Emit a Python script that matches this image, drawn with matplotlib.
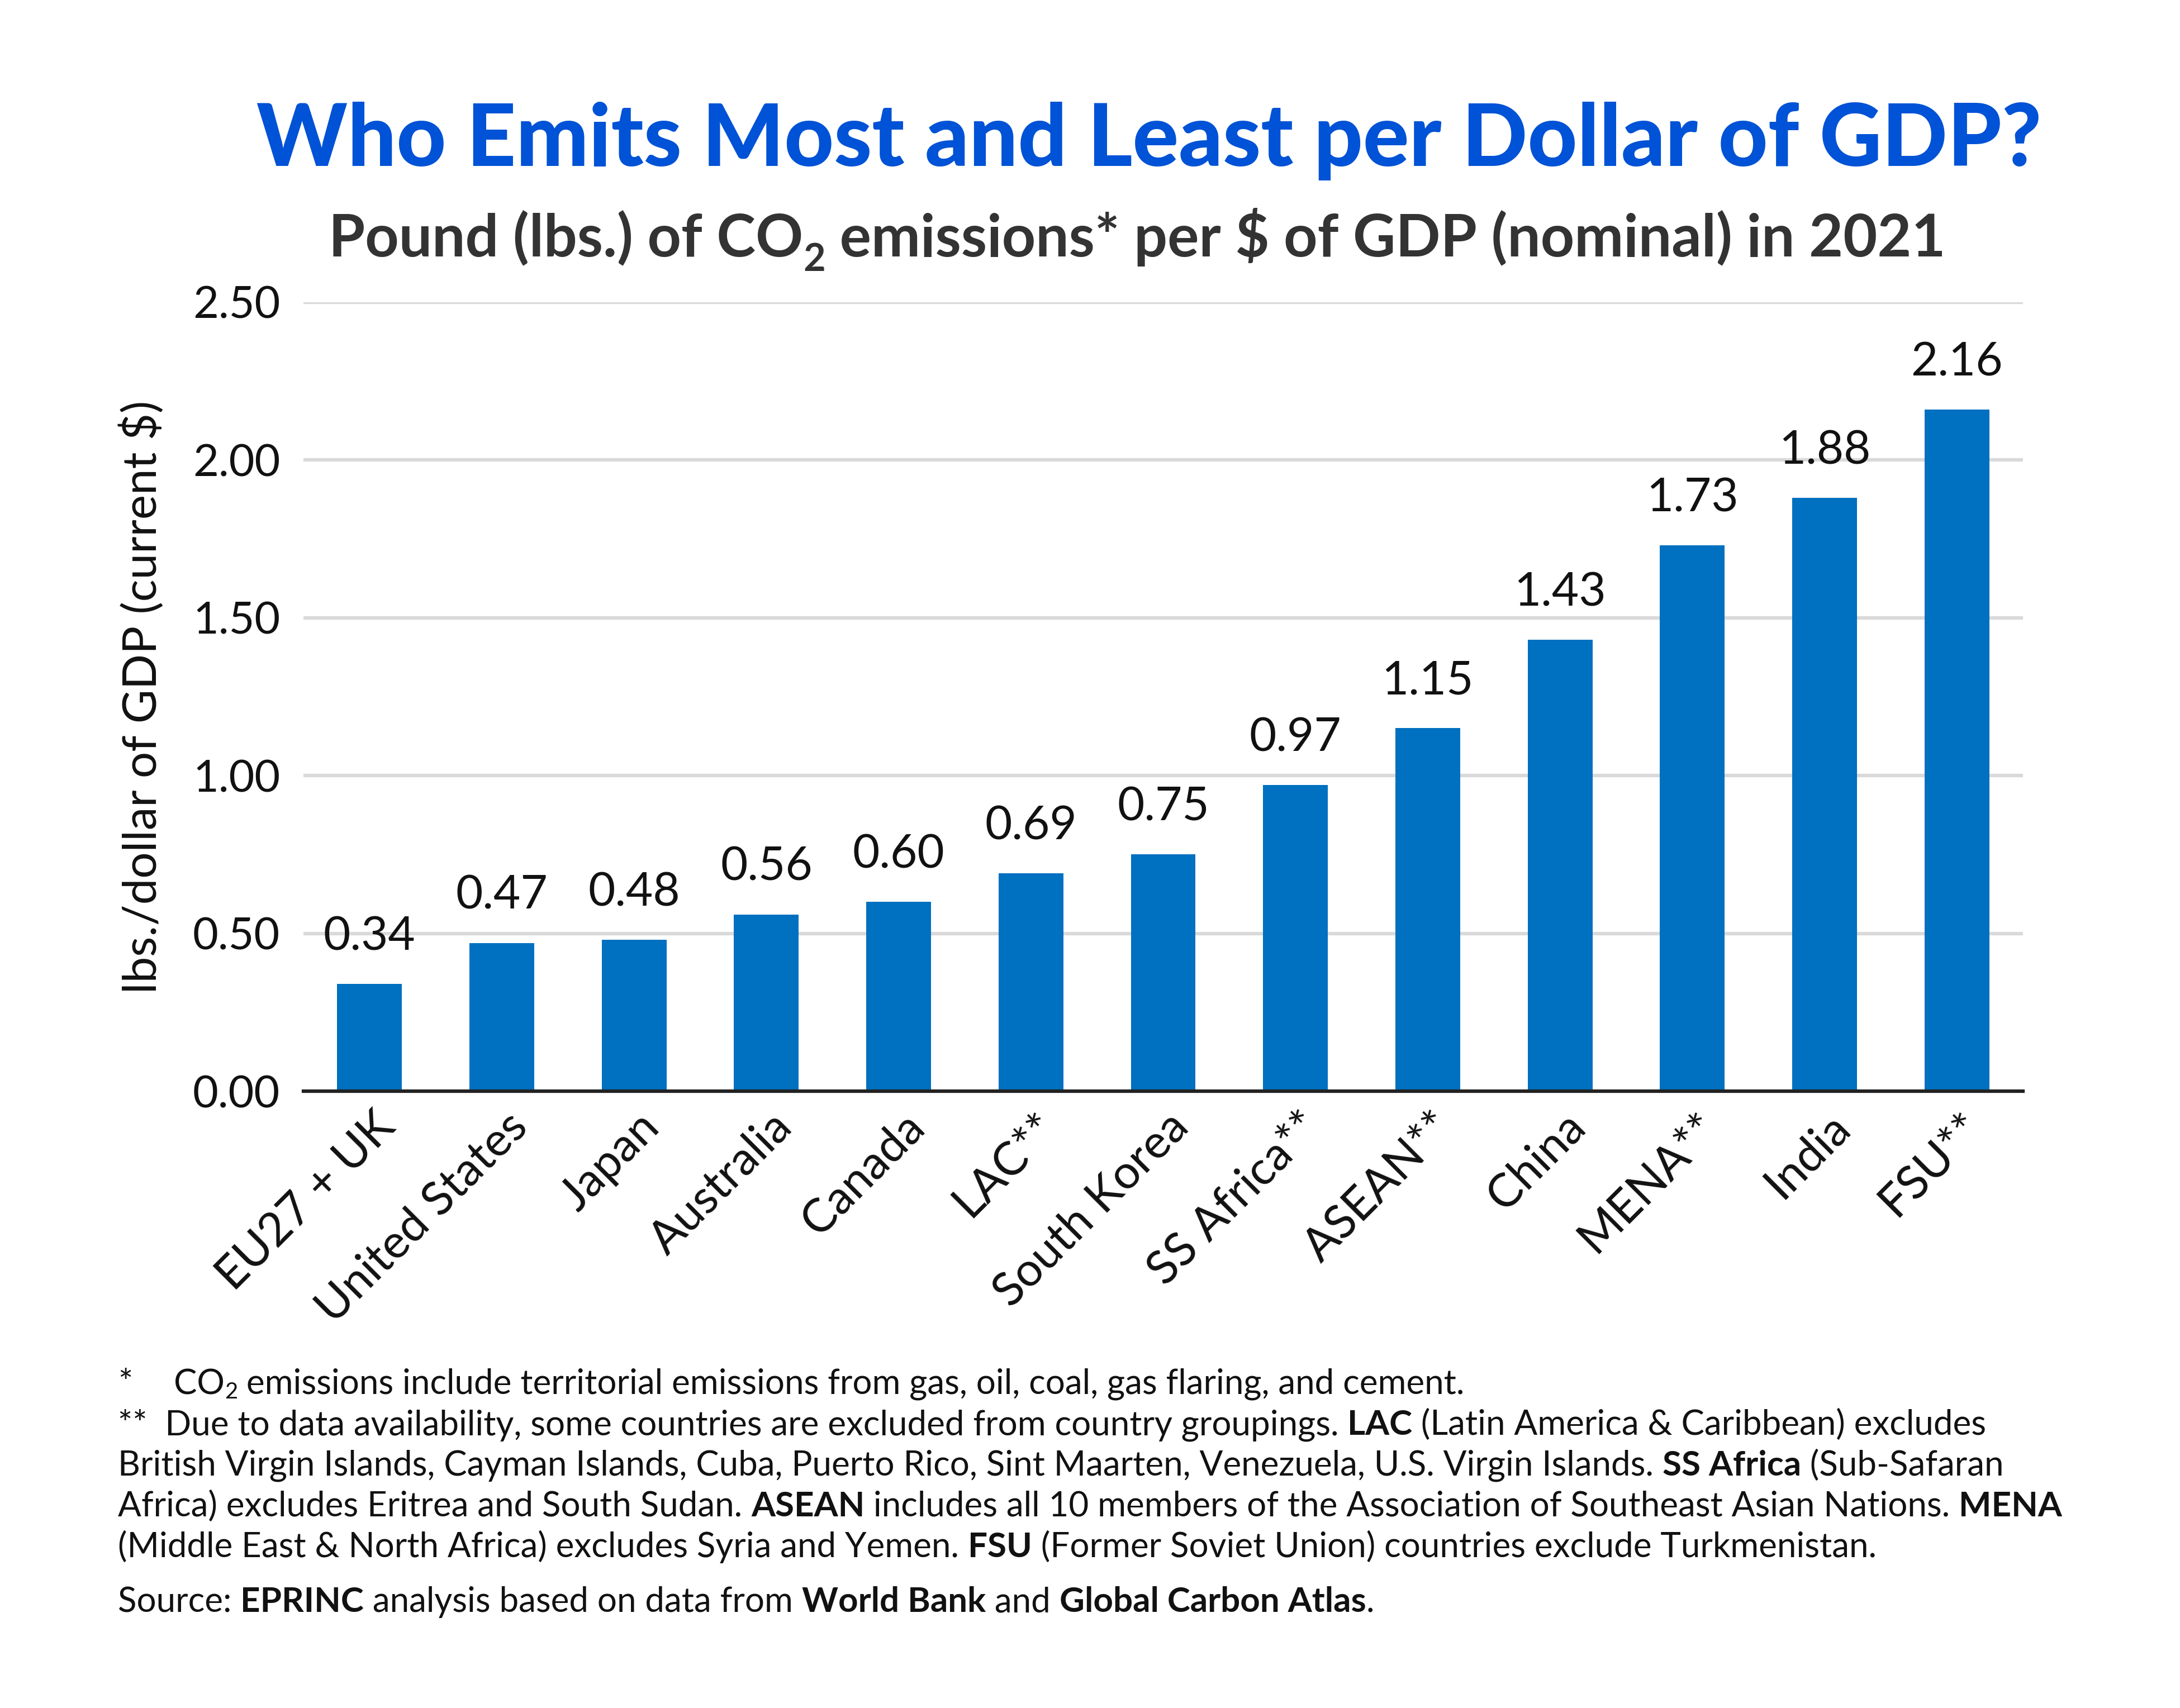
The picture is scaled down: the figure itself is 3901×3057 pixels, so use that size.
import matplotlib
matplotlib.use('Agg')
import matplotlib.pyplot as plt
import matplotlib.transforms as mtransforms

plt.rcParams['font.family'] = ['Lato', 'DejaVu Sans']

# ---- data ----
categories = ['EU27 + UK', 'United States', 'Japan', 'Australia', 'Canada', 'LAC**',
              'South Korea', 'SS Africa**', 'ASEAN**', 'China', 'MENA**', 'India', 'FSU**']
values = [0.34, 0.47, 0.48, 0.56, 0.60, 0.69, 0.75, 0.97, 1.15, 1.43, 1.73, 1.88, 2.16]
value_labels = ['0.34', '0.47', '0.48', '0.56', '0.60', '0.69', '0.75', '0.97', '1.15',
                '1.43', '1.73', '1.88', '2.16']
yticks = [0.0, 0.5, 1.0, 1.5, 2.0, 2.5]

BAR = '#0070C0'
TITLE_C = '#0052D6'
SUB_C = '#333333'
TXT = '#111111'

DPI = 300
W, H = 3901, 3057
fig = plt.figure(figsize=(W / DPI, H / DPI), dpi=DPI)
ax = fig.add_axes([543 / W, 1 - 1953 / H, (3620 - 543) / W, (1953 - 541) / H])

x = list(range(len(categories)))
bars = ax.bar(x, values, width=0.49, color=BAR, zorder=3)

for xi, v, lab in zip(x, values, value_labels):
    ax.annotate(lab, (xi, v), xytext=(0, 11), textcoords='offset points',
                ha='center', va='bottom', fontsize=20, color=TXT)

ax.set_xlim(-0.5, len(categories) - 0.5)
ax.set_ylim(0, 2.5)
ax.set_yticks(yticks)
ax.set_yticklabels(['%.2f' % t for t in yticks], fontsize=19, color=TXT)
ax.set_xticks(x)
ax.tick_params(axis='both', length=0)
ax.tick_params(axis='y', pad=10)
ax.tick_params(axis='x', pad=6)
ax.set_xticklabels(categories, rotation=45, ha='right', fontsize=20, color=TXT)
# nudge rotated labels right (after tick_params, which resets transforms)
shift = mtransforms.ScaledTranslation(0.2, 0, fig.dpi_scale_trans)
for t in ax.xaxis.get_majorticklabels():
    t.set_transform(t.get_transform() + shift)
ax.grid(axis='y', color='#D9D9D9', linewidth=1.5, zorder=0)
for s in ['top', 'right', 'left']:
    ax.spines[s].set_visible(False)
ax.spines['bottom'].set_color('#222222')
ax.spines['bottom'].set_linewidth(1.5)
ax.spines['bottom'].set_zorder(4)
ax.set_ylabel('lbs./dollar of GDP (current $)', fontsize=20, color=TXT, labelpad=12)

renderer = fig.canvas.get_renderer()
ident = mtransforms.IdentityTransform()


def rich(x0, y0, parts, size, color, center=False):
    # parts: (text, weight, scale, dy in px)
    objs = []
    cx = x0
    for s, wt, sc, dy in parts:
        t = fig.text(cx, y0 - dy, s, fontsize=size * sc, fontweight=wt, color=color,
                     transform=ident, va='baseline', ha='left')
        cx += t.get_window_extent(renderer).width
        objs.append(t)
    if center:
        off = (cx - x0) / 2
        for t in objs:
            px, py = t.get_position()
            t.set_position((px - off, py))
    return objs


# title + subtitle (pixel coords measured from bottom)
fig.text(2056 / W, 1 - 297 / H, 'Who Emits Most and Least per Dollar of GDP?',
         ha='center', va='baseline', fontsize=37, fontweight='black', color=TITLE_C)
rich(2035, H - 459, [('Pound (lbs.) of CO', 'bold', 1, 0), ('2', 'bold', 0.65, 26),
                     (' emissions* per $ of GDP (nominal) in 2021', 'bold', 1, 0)],
     25.3, SUB_C, center=True)

# footnotes
FS = 14.85
L = 211
rich(L, H - 2495, [('*', 'normal', 1, 0)], FS, TXT)
rich(L + 100, H - 2495, [('CO', 'normal', 1, 0), ('2', 'normal', 0.65, 8),
                         (' emissions include territorial emissions from gas, oil, coal, gas flaring, and cement.', 'normal', 1, 0)],
     FS, TXT)
rich(L, H - 2568, [('**  Due to data availability, some countries are excluded from country groupings. ', 'normal', 1, 0),
                   ('LAC', 'bold', 1, 0), (' (Latin America & Caribbean) excludes', 'normal', 1, 0)], FS, TXT)
rich(L, H - 2641, [('British Virgin Islands, Cayman Islands, Cuba, Puerto Rico, Sint Maarten, Venezuela, U.S. Virgin Islands. ', 'normal', 1, 0),
                   ('SS Africa', 'bold', 1, 0), (' (Sub-Safaran', 'normal', 1, 0)], FS, TXT)
rich(L, H - 2714, [('Africa) excludes Eritrea and South Sudan. ', 'normal', 1, 0), ('ASEAN', 'bold', 1, 0),
                   (' includes all 10 members of the Association of Southeast Asian Nations. ', 'normal', 1, 0),
                   ('MENA', 'bold', 1, 0)], FS, TXT)
rich(L, H - 2787, [('(Middle East & North Africa) excludes Syria and Yemen. ', 'normal', 1, 0), ('FSU', 'bold', 1, 0),
                   (' (Former Soviet Union) countries exclude Turkmenistan.', 'normal', 1, 0)], FS, TXT)
rich(L, H - 2885, [('Source: ', 'normal', 1, 0), ('EPRINC', 'bold', 1, 0),
                   (' analysis based on data from ', 'normal', 1, 0), ('World Bank', 'bold', 1, 0),
                   (' and ', 'normal', 1, 0), ('Global Carbon Atlas', 'bold', 1, 0), ('.', 'normal', 1, 0)], FS, TXT)

fig.savefig('out.png', dpi=DPI, facecolor='white')
